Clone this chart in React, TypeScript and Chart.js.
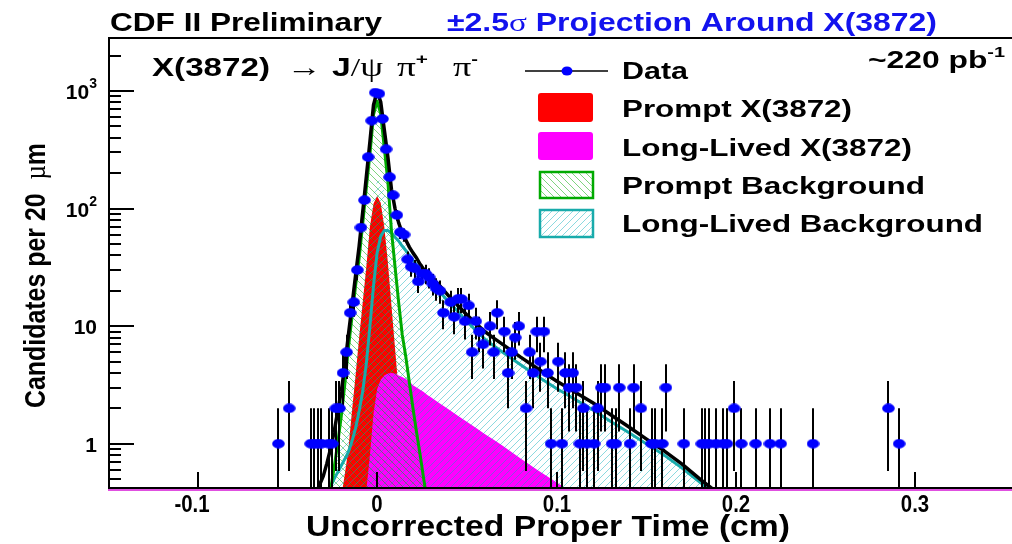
import React, { useEffect, useRef } from 'react';
import { Chart, registerables } from 'chart.js';
Chart.register(...registerables);

// ---------- axes ----------
const X_MIN = -0.15;
const X_MAX = 0.35;
const Y_MIN = 0.42;
const Y_MAX = 2825;
const xTickValues = [-0.1, 0, 0.1, 0.2, 0.3];
const xTickLabels = ['-0.1', '0', '0.1', '0.2', '0.3'];
const yMajorValues = [1, 10, 100, 1000];
const yTickBase = ['1', '10', '10', '10'];
const yTickExp = ['', '', '2', '3'];

// ---------- data histogram (bin centres in cm, counts per 20 um) ----------
const binCenters = [-0.055, -0.049, -0.037, -0.035, -0.033, -0.031, -0.027, -0.025, -0.023, -0.021,
  -0.019, -0.017, -0.015, -0.013, -0.011, -0.009, -0.007, -0.005, -0.003, -0.001,
  0.001, 0.003, 0.005, 0.007, 0.009, 0.011, 0.013, 0.015, 0.017, 0.019,
  0.021, 0.023, 0.025, 0.027, 0.029, 0.031, 0.033, 0.035, 0.037, 0.041,
  0.043, 0.045, 0.047, 0.049, 0.051, 0.053, 0.055, 0.057, 0.059, 0.063,
  0.065, 0.067, 0.071, 0.073, 0.075, 0.077, 0.079, 0.083, 0.085, 0.087,
  0.089, 0.091, 0.093, 0.095, 0.097, 0.101, 0.103, 0.105, 0.107, 0.109,
  0.111, 0.113, 0.115, 0.117, 0.121, 0.123, 0.125, 0.127, 0.131, 0.133,
  0.135, 0.141, 0.143, 0.147, 0.153, 0.155, 0.159, 0.161, 0.171, 0.181,
  0.183, 0.185, 0.189, 0.193, 0.195, 0.199, 0.203, 0.211, 0.219, 0.225,
  0.243, 0.285, 0.291];
const counts = [1, 2, 1, 1, 1, 1, 1, 1, 2, 2,
  4, 6, 13, 16, 30, 69, 118, 274, 560, 970,
  950, 580, 320, 185, 130, 88, 63, 60, 37, 32,
  31, 24, 28, 28, 26, 23, 21, 20, 13, 16,
  12, 17, 17, 11, 15, 6, 11, 9, 7, 10,
  6, 13, 9, 4, 6, 8, 10, 2, 6, 4,
  9, 5, 9, 4, 1, 5, 1, 4, 3, 4,
  3, 1, 2, 1, 1, 2, 3, 3, 1, 1,
  3, 1, 3, 2, 1, 1, 1, 3, 1, 1,
  1, 1, 1, 1, 1, 2, 1, 1, 1, 1,
  1, 2, 1];

// ---------- fit curves ----------
const curveX = [-0.036, -0.034, -0.032, -0.030, -0.028, -0.026, -0.024, -0.022, -0.020, -0.018,
  -0.016, -0.014, -0.012, -0.010, -0.008, -0.006, -0.004, -0.002, 0, 0.002,
  0.004, 0.006, 0.008, 0.010, 0.012, 0.014, 0.016, 0.018, 0.020, 0.022,
  0.024, 0.026, 0.028, 0.030, 0.035, 0.040, 0.045, 0.050, 0.055, 0.060,
  0.065, 0.070, 0.080, 0.090, 0.100, 0.110, 0.120, 0.130, 0.140, 0.150,
  0.160, 0.170, 0.180, 0.190, 0.200];
const totalFit = [0.3, 0.38, 0.45, 0.53, 0.68, 0.9, 1.25, 1.87, 2.77, 4.6,
  8.4, 15, 27, 48, 94, 187, 371, 760, 990, 810,
  470, 275, 146, 100, 76, 62, 54, 47, 42, 38,
  33.5, 30.5, 28, 26.5, 22, 18, 15, 12.5, 10.6, 9.0,
  7.9, 7.0, 5.45, 4.3, 3.42, 2.77, 2.24, 1.77, 1.4, 1.1,
  0.87, 0.67, 0.5, 0.38, 0.28];
const promptBkg = [null, null, null, 0.2, 0.28, 0.4, 0.62, 1.0, 1.7, 3.2,
  6.5, 12, 22, 38, 75, 150, 290, 630, 820, 640,
  330, 170, 65, 32, 16, 8.5, 5.5, 3.3, 2.0, 1.25,
  0.8, 0.5, 0.32, 0.2, null, null, null, null, null, null,
  null, null, null, null, null, null, null, null, null, null,
  null, null, null, null, null];
const promptX = [null, null, null, null, null, null, null, 0.25, 0.35, 0.55,
  0.9, 1.9, 3.8, 8, 16, 32, 70, 110, 128, 112,
  70, 35, 15, 6.5, 2.8, 1.4, 0.75, 0.42, 0.28, null,
  null, null, null, null, null, null, null, null, null, null,
  null, null, null, null, null, null, null, null, null, null,
  null, null, null, null, null];
const longLivedX = [null, null, null, null, null, null, null, null, null, null,
  null, null, null, null, 0.2, 0.4, 0.8, 1.8, 2.9, 3.5,
  3.8, 3.95, 4.0, 3.95, 3.8, 3.7, 3.55, 3.4, 3.14, 3.0,
  2.88, 2.75, 2.6, 2.48, 2.2, 1.95, 1.73, 1.54, 1.37, 1.21,
  1.08, 0.96, 0.75, 0.59, 0.47, 0.37, 0.29, null, null, null,
  null, null, null, null, null];
const longLivedBkg = [0.25, 0.28, 0.31, 0.33, 0.36, 0.43, 0.5, 0.57, 0.65, 0.74,
  0.85, 1.05, 1.35, 1.9, 2.8, 4.8, 10, 22, 42, 58,
  65, 65, 62, 57, 53, 48, 44, 40, 36.5, 33,
  30, 27.5, 25.3, 23.5, 19.5, 16, 13.3, 11, 9.2, 7.8,
  6.8, 6.0, 4.7, 3.7, 2.95, 2.4, 1.95, 1.55, 1.25, 1.0,
  0.8, 0.62, 0.47, 0.36, 0.27];

const SANS = '"Liberation Sans", Arial, Helvetica, sans-serif';
const SERIF = '"Liberation Serif", "DejaVu Serif", serif';
const bold = (s: number) => `bold ${s}px ${SANS}`;
const serif = (s: number) => `${s}px ${SERIF}`;

type Run = { t: string; f: string; dy?: number };

function drawRuns(ctx: CanvasRenderingContext2D, runs: Run[], x: number, y: number,
  opts: { w?: number; sx?: number; align?: string; color?: string } = {}) {
  ctx.save();
  ctx.textBaseline = 'alphabetic';
  ctx.textAlign = 'left';
  let w = 0;
  const ws = runs.map((r) => { ctx.font = r.f; const m = ctx.measureText(r.t).width; w += m; return m; });
  const sx = opts.w ? opts.w / w : (opts.sx || 1);
  const total = w * sx;
  const align = opts.align || 'left';
  const x0 = align === 'left' ? x : align === 'right' ? x - total : x - total / 2;
  ctx.translate(x0, y);
  ctx.scale(sx, 1);
  let cx = 0;
  ctx.fillStyle = opts.color || '#000';
  runs.forEach((r, i) => { ctx.font = r.f; ctx.fillText(r.t, cx, r.dy || 0); cx += ws[i]; });
  ctx.restore();
}

function makeHatch(ctx: CanvasRenderingContext2D, color: string, back: boolean) {
  const c = document.createElement('canvas');
  c.width = 7; c.height = 7;
  const g = c.getContext('2d')!;
  g.strokeStyle = color; g.lineWidth = 1;
  g.beginPath();
  if (back) {
    g.moveTo(-1, -1); g.lineTo(8, 8);
    g.moveTo(-1, 6); g.lineTo(1, 8);
    g.moveTo(6, -1); g.lineTo(8, 1);
  } else {
    g.moveTo(-1, 8); g.lineTo(8, -1);
    g.moveTo(-1, 1); g.lineTo(1, -1);
    g.moveTo(6, 8); g.lineTo(8, 6);
  }
  g.stroke();
  return ctx.createPattern(c, 'repeat')!;
}

function makeDot() {
  const c = document.createElement('canvas');
  c.width = 13; c.height = 10;
  const g = c.getContext('2d')!;
  g.fillStyle = '#0000ff';
  g.beginPath(); g.ellipse(6.5, 5, 6.3, 4.7, 0, 0, Math.PI * 2); g.fill();
  return c;
}

const errorBarsPlugin = {
  id: 'errorBars',
  beforeDatasetDraw(chart: any, args: any) {
    const ds = chart.data.datasets[args.index];
    if (!ds.errorBars) return;
    const { ctx, chartArea: a, scales: { x, y } } = chart;
    ctx.save();
    ctx.beginPath(); ctx.rect(a.left, a.top, a.right - a.left, a.bottom - a.top); ctx.clip();
    ctx.strokeStyle = '#000'; ctx.lineWidth = 2;
    binCenters.forEach((c, i) => {
      const n = counts[i]; const e = Math.sqrt(n);
      const px = Math.round(x.getPixelForValue(c));
      const top = y.getPixelForValue(n + e);
      const lo = n - e > 0 ? y.getPixelForValue(n - e) : a.bottom + 5;
      ctx.beginPath(); ctx.moveTo(px, top); ctx.lineTo(px, lo); ctx.stroke();
    });
    ctx.restore();
  },
};

const decorPlugin = {
  id: 'decor',
  afterDraw(chart: any) {
    const { ctx, chartArea: a, scales: { x, y } } = chart;
    const hatchG = chart.$hatchG; const hatchC = chart.$hatchC;
    ctx.save();
    // floor line
    ctx.strokeStyle = '#e050e0'; ctx.lineWidth = 2;
    ctx.beginPath(); ctx.moveTo(a.left, a.bottom + 2); ctx.lineTo(1012, a.bottom + 2); ctx.stroke();
    // frame
    ctx.strokeStyle = '#000'; ctx.lineWidth = 2;
    ctx.beginPath(); ctx.moveTo(a.left + 1, a.bottom); ctx.lineTo(a.left + 1, a.top); ctx.lineTo(1012, a.top); ctx.stroke();
    ctx.beginPath(); ctx.moveTo(a.left, a.bottom); ctx.lineTo(1012, a.bottom); ctx.stroke();
    // x ticks
    xTickValues.forEach((v, i) => {
      const px = Math.round(x.getPixelForValue(v));
      ctx.beginPath(); ctx.moveTo(px, a.bottom); ctx.lineTo(px, a.bottom - 16); ctx.stroke();
      const off = v < 0 ? -6 : 0;
      drawRuns(ctx, [{ t: xTickLabels[i], f: bold(24) }], px + off, 512, { sx: 0.85, align: 'center' });
    });
    // y ticks
    for (let k = -1; k <= 3; k++) {
      for (let m = 1; m <= 9; m++) {
        const v = m * Math.pow(10, k);
        if (v < Y_MIN || v > Y_MAX) continue;
        const py = Math.round(y.getPixelForValue(v));
        ctx.lineWidth = 2;
        ctx.beginPath(); ctx.moveTo(a.left, py); ctx.lineTo(a.left + (m === 1 ? 26 : 13), py); ctx.stroke();
      }
    }
    yMajorValues.forEach((v, i) => {
      const py = y.getPixelForValue(v);
      const runs: Run[] = [{ t: yTickBase[i], f: bold(21) }];
      if (yTickExp[i]) runs.push({ t: yTickExp[i], f: bold(14), dy: -11 });
      drawRuns(ctx, runs, 97, py + 8, { align: 'right' });
    });
    // axis titles
    drawRuns(ctx, [{ t: 'Uncorrected Proper Time (cm)', f: bold(30) }], 306, 536, { w: 484 });
    ctx.save();
    ctx.translate(45, 408);
    ctx.rotate(-Math.PI / 2);
    drawRuns(ctx, [{ t: 'Candidates per 20  ', f: bold(29) }, { t: 'µ', f: serif(29) }, { t: 'm', f: bold(29) }], 0, 0, { w: 265 });
    ctx.restore();
    // titles
    drawRuns(ctx, [{ t: 'CDF II Preliminary', f: bold(25) }], 110, 31, { w: 272 });
    drawRuns(ctx, [{ t: '±2.5', f: bold(25) }, { t: 'σ', f: serif(26) }, { t: ' Projection Around X(3872)', f: bold(25) }], 447, 31, { w: 490, color: '#1212ee' });
    // decay text
    drawRuns(ctx, [{ t: 'X(3872)', f: bold(25) }], 152, 76, { w: 118 });
    drawRuns(ctx, [{ t: '→', f: serif(26) }], 287, 76, { w: 35 });
    drawRuns(ctx, [{ t: 'J', f: bold(25) }, { t: '/', f: serif(25) }, { t: 'ψ', f: serif(27) }], 332, 76, { w: 51 });
    drawRuns(ctx, [{ t: 'π', f: serif(27) }, { t: '+', f: bold(15), dy: -12 }], 397, 76, { w: 31 });
    drawRuns(ctx, [{ t: 'π', f: serif(27) }, { t: '-', f: bold(15), dy: -12 }], 453, 76, { w: 25 });
    drawRuns(ctx, [{ t: '~220 pb', f: bold(24) }, { t: '-1', f: bold(15), dy: -11 }], 868, 68, { w: 137 });
    // legend
    const ds = chart.data.datasets;
    const lab = (id: string) => ds.find((d: any) => d.key === id).label;
    ctx.strokeStyle = '#000'; ctx.lineWidth = 1.5;
    ctx.beginPath(); ctx.moveTo(525, 71); ctx.lineTo(608, 71); ctx.stroke();
    ctx.fillStyle = '#0000ff';
    ctx.beginPath(); ctx.ellipse(567, 71, 5.5, 4.5, 0, 0, Math.PI * 2); ctx.fill();
    ctx.fillStyle = '#ff0000';
    ctx.beginPath(); ctx.roundRect(538, 93, 55, 29, 3); ctx.fill();
    ctx.fillStyle = '#ff00ff';
    ctx.beginPath(); ctx.roundRect(538, 132, 55, 28, 3); ctx.fill();
    ctx.fillStyle = hatchG; ctx.fillRect(540, 172, 53, 26);
    ctx.strokeStyle = '#00aa00'; ctx.lineWidth = 2.5; ctx.strokeRect(540, 172, 53, 26);
    ctx.fillStyle = hatchC; ctx.fillRect(540, 210, 53, 27);
    ctx.strokeStyle = '#18abab'; ctx.lineWidth = 2.5; ctx.strokeRect(540, 210, 53, 27);
    drawRuns(ctx, [{ t: lab('data'), f: bold(24) }], 622, 79, { w: 66 });
    drawRuns(ctx, [{ t: lab('px'), f: bold(24) }], 622, 117, { w: 230 });
    drawRuns(ctx, [{ t: lab('llx'), f: bold(24) }], 622, 156, { w: 290 });
    drawRuns(ctx, [{ t: lab('pb'), f: bold(24) }], 622, 194, { w: 303 });
    drawRuns(ctx, [{ t: lab('llb'), f: bold(24) }], 622, 232, { w: 361 });
    ctx.restore();
  },
};

const pts = (arr: (number | null)[]) => curveX.map((xv, i) => ({ x: xv, y: arr[i] }));

export default function App() {
  const ref = useRef<HTMLCanvasElement>(null);
  useEffect(() => {
    const canvas = ref.current!;
    const ctx = canvas.getContext('2d')!;
    const hatchG = makeHatch(ctx, 'rgba(0,170,0,0.5)', true);
    const hatchC = makeHatch(ctx, 'rgba(0,170,185,0.45)', false);
    const dot = makeDot();
    const llStack = curveX.map((_, i) => (longLivedBkg[i] || 0) + (promptX[i] || 0) + (longLivedX[i] || 0));
    const chart: any = new Chart(canvas, {
      type: 'line',
      data: {
        datasets: [
          { key: 'data', label: 'Data', data: binCenters.map((c, i) => ({ x: c, y: counts[i] })), showLine: false,
            pointStyle: dot, pointRadius: 6, errorBars: true, order: 0 } as any,
          { key: 'total', label: 'Total', data: pts(totalFit), borderColor: '#000', borderWidth: 3.5, pointRadius: 0,
            fill: false, order: 1, borderJoinStyle: 'round', borderCapStyle: 'round' } as any,
          { key: 'pbLine', label: 'Prompt Background', data: pts(promptBkg), borderColor: '#00aa00', borderWidth: 3, pointRadius: 0,
            fill: false, order: 2, borderJoinStyle: 'round' } as any,
          { key: 'llbLine', label: 'Long-Lived Background', data: pts(longLivedBkg), borderColor: '#18abab', borderWidth: 3, pointRadius: 0,
            fill: false, order: 3, borderJoinStyle: 'round' } as any,
          { key: 'llb', label: 'Long-Lived Background', data: pts(llStack), borderWidth: 0, borderColor: 'rgba(0,0,0,0)', pointRadius: 0,
            fill: 'start', backgroundColor: hatchC, order: 4 } as any,
          { key: 'pb', label: 'Prompt Background', data: pts(promptBkg), borderWidth: 0, borderColor: 'rgba(0,0,0,0)', pointRadius: 0,
            fill: 'start', backgroundColor: hatchG, order: 5 } as any,
          { key: 'llx', label: 'Long-Lived X(3872)', data: pts(longLivedX), borderWidth: 0, borderColor: 'rgba(0,0,0,0)', pointRadius: 0,
            fill: 'start', backgroundColor: '#ff00ff', order: 6 } as any,
          { key: 'px', label: 'Prompt X(3872)', data: pts(promptX), borderWidth: 0, borderColor: 'rgba(0,0,0,0)', pointRadius: 0,
            fill: 'start', backgroundColor: '#ff0000', order: 7 } as any,
        ],
      },
      options: {
        animation: false,
        responsive: false,
        maintainAspectRatio: false,
        events: [],
        layout: { padding: { left: 108, right: 3, top: 38, bottom: 56 } },
        scales: {
          x: { type: 'linear', min: X_MIN, max: X_MAX, display: false },
          y: { type: 'logarithmic', min: Y_MIN, max: Y_MAX, display: false },
        },
        elements: { line: { tension: 0 } },
        plugins: { legend: { display: false }, tooltip: { enabled: false } },
      },
      plugins: [errorBarsPlugin, decorPlugin],
    } as any);
    chart.$hatchG = hatchG;
    chart.$hatchC = hatchC;
    chart.draw();
    return () => chart.destroy();
  }, []);
  return (
    <div style={{ position: 'fixed', left: 0, top: 0, width: 1012, height: 544, background: '#fff' }}>
      <canvas ref={ref} width={1012} height={544} style={{ display: 'block', width: 1012, height: 544 }} />
    </div>
  );
}
